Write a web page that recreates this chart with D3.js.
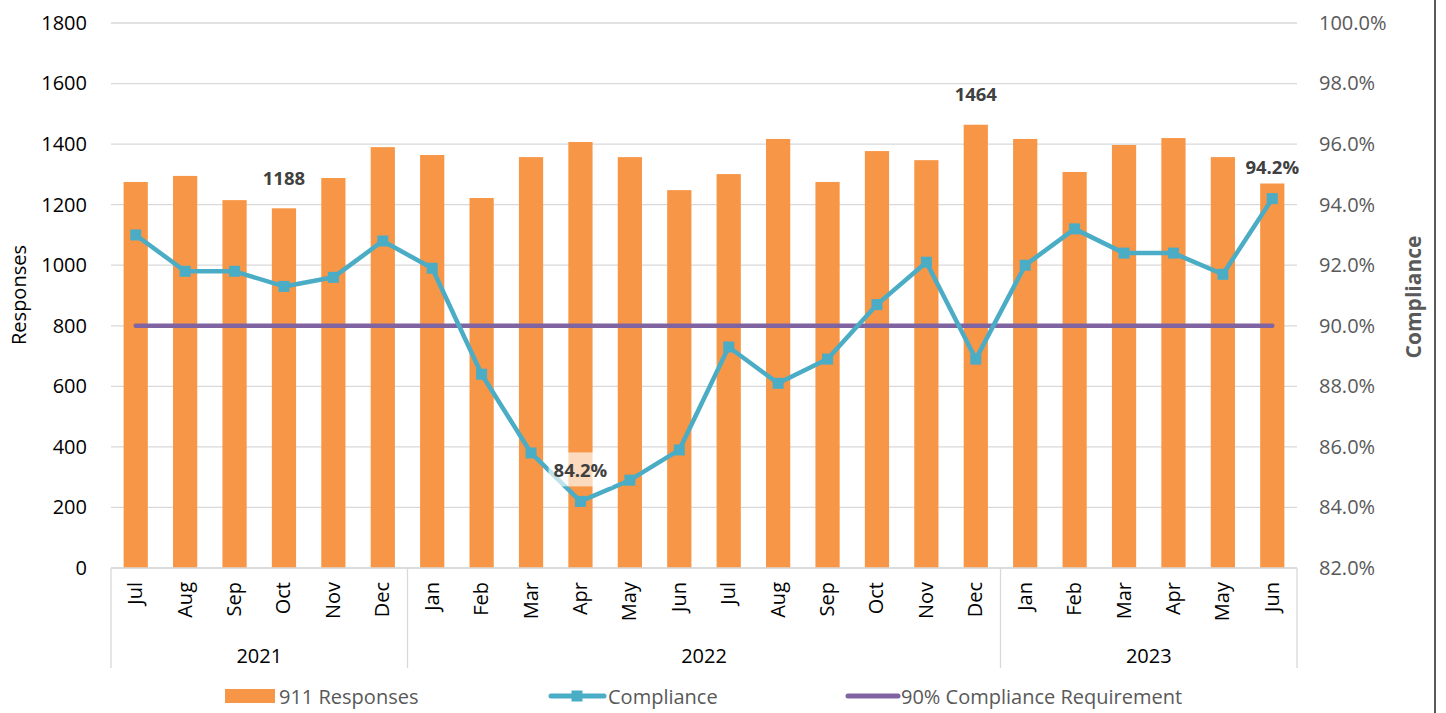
<!DOCTYPE html>
<html>
<head>
<meta charset="utf-8">
<script src="https://cdn.jsdelivr.net/npm/d3@7"></script>
<style>
  html, body { margin: 0; padding: 0; background: #fff; }
  svg { display: block; font-family: "Open Sans", Lato, sans-serif; }
</style>
</head>
<body>
<svg id="chart" width="1446" height="713"></svg>
<script>
// Monthly 911 responses and compliance, Jul 2021 – Jun 2023
const months = ["Jul","Aug","Sep","Oct","Nov","Dec",
                "Jan","Feb","Mar","Apr","May","Jun","Jul","Aug","Sep","Oct","Nov","Dec",
                "Jan","Feb","Mar","Apr","May","Jun"];
const yearLabels = ["2021", "2022", "2023"];
const yearSpans = [6, 12, 6];
const responses = [1275, 1295, 1215, 1188, 1288, 1390,
                   1364, 1222, 1357, 1407, 1357, 1248, 1301, 1417, 1275, 1377, 1347, 1464,
                   1417, 1308, 1397, 1420, 1357, 1271];
const compliance = [93.0, 91.8, 91.8, 91.3, 91.6, 92.8,
                    91.9, 88.4, 85.8, 84.2, 84.9, 85.9, 89.3, 88.1, 88.9, 90.7, 92.1, 88.9,
                    92.0, 93.2, 92.4, 92.4, 91.7, 94.2];
const requirement = months.map(() => 90);
const leftTicks = [0, 200, 400, 600, 800, 1000, 1200, 1400, 1600, 1800];
const rightTicks = [82, 84, 86, 88, 90, 92, 94, 96, 98, 100];
const labeledBars = [3, 17];
const labeledPoints = [9, 23];

const C = {
  bar: "#F79646", line: "#4BACC6", req: "#8064A2",
  grid: "#D9D9D9", text: "#000", gray: "#595959", label: "#404040"
};
const FONT = "'Open Sans', Lato, sans-serif";

const svg = d3.select("#chart");
const plot = { left: 111, right: 1297, top: 23, bottom: 568 };

const idx = months.map((_, i) => i);
const x = d3.scaleBand().domain(idx).range([plot.left, plot.right]).padding(0);
const cx = i => x(i) + x.bandwidth() / 2;
const yL = d3.scaleLinear().domain([0, 1800]).range([plot.bottom, plot.top]);
const yR = d3.scaleLinear().domain([82, 100]).range([plot.bottom, plot.top]);

// gridlines
svg.append("g").selectAll("line").data(leftTicks).join("line")
  .attr("x1", plot.left).attr("x2", plot.right)
  .attr("y1", d => yL(d)).attr("y2", d => yL(d))
  .attr("stroke", C.grid).attr("stroke-width", 1.3);

// left axis
const gL = svg.append("g").attr("transform", `translate(${plot.left - 24},0)`)
  .call(d3.axisLeft(yL).tickValues(leftTicks).tickSize(0).tickPadding(0)
    .tickFormat(d3.format("d")));
gL.select(".domain").remove();
gL.selectAll("text").attr("font-size", 20).attr("fill", C.text).attr("font-family", FONT);

// right axis
const gR = svg.append("g").attr("transform", `translate(${plot.right + 22},0)`)
  .call(d3.axisRight(yR).tickValues(rightTicks).tickSize(0).tickPadding(0)
    .tickFormat(d => d.toFixed(1) + "%"));
gR.select(".domain").remove();
gR.selectAll("text").attr("font-size", 20).attr("fill", C.gray).attr("font-family", FONT);

// bars
const barW = x.bandwidth() * 0.49;
svg.append("g").selectAll("rect").data(responses).join("rect")
  .attr("x", (d, i) => cx(i) - barW / 2)
  .attr("width", barW)
  .attr("y", d => yL(d))
  .attr("height", d => yL(0) - yL(d))
  .attr("fill", C.bar);

// category axis lines
svg.append("line").attr("x1", plot.left).attr("x2", plot.right)
  .attr("y1", plot.bottom).attr("y2", plot.bottom)
  .attr("stroke", C.grid).attr("stroke-width", 1.3);
let acc = 0;
const bounds = [0];
yearSpans.forEach(s => { acc += s; bounds.push(acc); });
svg.append("g").selectAll("line").data(bounds).join("line")
  .attr("x1", d => d < months.length ? x(d) : plot.right)
  .attr("x2", d => d < months.length ? x(d) : plot.right)
  .attr("y1", plot.bottom).attr("y2", plot.bottom + 100)
  .attr("stroke", C.grid).attr("stroke-width", 1.3);

// month labels
svg.append("g").selectAll("text").data(months).join("text")
  .attr("transform", (d, i) => `translate(${cx(i) - 1},${plot.bottom + 14}) rotate(-90)`)
  .attr("text-anchor", "end").attr("dominant-baseline", "central")
  .attr("font-size", 20).attr("fill", C.text).text(d => d);

// year labels
svg.append("g").selectAll("text").data(yearLabels).join("text")
  .attr("x", (d, i) => {
    const a = bounds[i], b = bounds[i + 1];
    const xa = x(a), xb = b < months.length ? x(b) : plot.right;
    return (xa + xb) / 2;
  })
  .attr("y", 655).attr("text-anchor", "middle").attr("dominant-baseline", "central")
  .attr("font-size", 20).attr("fill", C.text).text(d => d);

// 90% requirement line
const lineR = d3.line().x((d, i) => cx(i)).y(d => yR(d));
svg.append("path").datum(requirement).attr("d", lineR)
  .attr("fill", "none").attr("stroke", C.req).attr("stroke-width", 4.5)
  .attr("stroke-linecap", "round");

// compliance line + markers
svg.append("path").datum(compliance).attr("d", lineR)
  .attr("fill", "none").attr("stroke", C.line).attr("stroke-width", 4.5)
  .attr("stroke-linejoin", "round");
const mk = 11;
svg.append("g").selectAll("rect").data(compliance).join("rect")
  .attr("x", (d, i) => cx(i) - mk / 2).attr("y", d => yR(d) - mk / 2)
  .attr("width", mk).attr("height", mk).attr("fill", C.line);

// data labels
const lblFont = 18.5;
labeledBars.forEach(i => {
  svg.append("text").attr("x", cx(i)).attr("y", yL(responses[i]) - 31)
    .attr("text-anchor", "middle").attr("dominant-baseline", "central")
    .attr("font-size", lblFont).attr("font-weight", "bold").attr("fill", C.label)
    .text(d3.format("d")(responses[i]));
});
labeledPoints.forEach(i => {
  const ly = yR(compliance[i]) - 32;
  const t = compliance[i].toFixed(1) + "%";
  const g = svg.append("g");
  const txt = g.append("text").attr("x", cx(i)).attr("y", ly)
    .attr("text-anchor", "middle").attr("dominant-baseline", "central")
    .attr("font-size", lblFont).attr("font-weight", "bold").attr("fill", C.label).text(t);
  const w = txt.node().getComputedTextLength() + 10;
  g.insert("rect", "text").attr("x", cx(i) - w / 2).attr("y", ly - 17)
    .attr("width", w).attr("height", 34).attr("fill", "#fff").attr("fill-opacity", 0.65);
});

// axis titles
svg.append("text").attr("transform", "translate(18,295) rotate(-90)")
  .attr("text-anchor", "middle").attr("dominant-baseline", "central")
  .attr("font-size", 20).attr("fill", C.text).text("Responses");
svg.append("text").attr("transform", "translate(1413,297) rotate(-90)")
  .attr("text-anchor", "middle").attr("dominant-baseline", "central")
  .attr("font-size", 21).attr("font-weight", "bold").attr("fill", C.gray).text("Compliance");

// legend
const legY = 696;
const leg = svg.append("g").attr("font-size", 20).attr("fill", C.gray);
leg.append("rect").attr("x", 225).attr("y", legY - 7).attr("width", 50).attr("height", 14).attr("fill", C.bar);
leg.append("text").attr("x", 279).attr("y", legY).attr("dominant-baseline", "central").text("911 Responses");
leg.append("line").attr("x1", 551).attr("x2", 604).attr("y1", legY).attr("y2", legY)
  .attr("stroke", C.line).attr("stroke-width", 5).attr("stroke-linecap", "round");
leg.append("rect").attr("x", 577 - 5.5).attr("y", legY - 5.5).attr("width", 11).attr("height", 11).attr("fill", C.line);
leg.append("text").attr("x", 608).attr("y", legY).attr("dominant-baseline", "central").text("Compliance");
leg.append("line").attr("x1", 848).attr("x2", 898).attr("y1", legY).attr("y2", legY)
  .attr("stroke", C.req).attr("stroke-width", 5).attr("stroke-linecap", "round");
leg.append("text").attr("x", 901).attr("y", legY).attr("dominant-baseline", "central").text("90% Compliance Requirement");

// frame edge
svg.append("line").attr("x1", 1435).attr("x2", 1435).attr("y1", 0).attr("y2", 713)
  .attr("stroke", "#595959").attr("stroke-width", 2);
</script>
</body>
</html>
